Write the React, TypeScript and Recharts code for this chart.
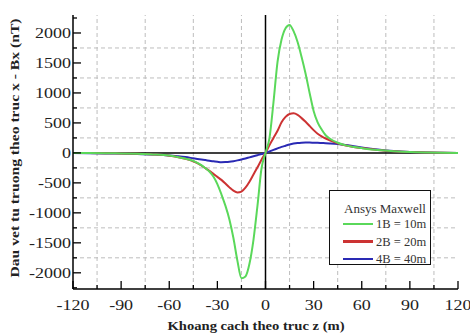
import React from 'react';
import { LineChart, Line, XAxis, YAxis, ReferenceLine, Label } from 'recharts';

const xs = [-120,-110,-100,-90,-80,-70,-60,-55,-50,-45,-40,-37.5,-35,-32.5,-30,-27.5,-25,-22.5,-20,-17.5,-15,-12.5,-10,-7.5,-5,-2.5,0,2.5,5,7.5,10,12.5,15,17.5,20,22.5,25,27.5,30,32.5,35,37.5,40,45,50,55,60,70,80,90,100,110,120];

const green1B = [-1,-2,-4,-8,-14,-25,-45,-68,-95,-133,-205,-255,-310,-394,-520,-690,-880,-1110,-1420,-1800,-2090,-2060,-1850,-1450,-880,-260,0,250,850,1520,1890,2080,2135,2030,1850,1600,1320,1000,700,510,390,295,240,170,125,98,80,48,27,13,6,2,0];
const red2B = [-1,-2,-4,-8,-15,-26,-46,-67,-97,-140,-210,-255,-300,-350,-400,-450,-510,-575,-630,-660,-645,-580,-480,-360,-240,-115,0,130,250,370,510,600,650,660,635,580,518,450,380,320,275,240,210,160,122,98,80,50,28,14,6,2,0];
const blue4B = [-3,-5,-8,-12,-18,-27,-42,-55,-70,-90,-110,-120,-130,-140,-148,-155,-153,-148,-138,-125,-110,-93,-75,-57,-38,-19,0,25,50,75,100,120,140,155,165,170,172,172,170,168,165,162,158,148,132,112,92,56,30,15,6,2,0];

const xTicks = [-120,-105,-90,-75,-60,-45,-30,-15,0,15,30,45,60,75,90,105,120];
const yTicks = [-2250,-2000,-1750,-1500,-1250,-1000,-750,-500,-250,0,250,500,750,1000,1250,1500,1750,2000,2250];
const xGrid = [-105,-75,-45,-15,15,45,75,105];
const yGrid = [-1750,-1250,-750,-250,250,750,1250,1750];

const seriesNames = ['1B = 10m', '2B = 20m', '4B = 40m'];
const seriesColors = ['#5ad85a', '#cc3333', '#2a2ab4'];

const data = xs.map((x, i) => ({ x, g: green1B[i], r: red2B[i], b: blue4B[i] }));

const FONT = '"Liberation Serif", "Times New Roman", serif';

const LeftTick = (p: any) => {
  const v = p.payload.value;
  const major = v % 500 === 0;
  return (
    <g>
      <line x1={p.x} x2={p.x + (major ? 8 : 4)} y1={p.y} y2={p.y} stroke="#000" strokeWidth={1.3} />
      {major && (
        <text transform={`translate(${p.x - 2},${p.y + 5}) scale(1.2,1)`} textAnchor="end" fontSize={15} fontFamily={FONT} fill="#222">{v}</text>
      )}
    </g>
  );
};
const RightTick = (p: any) => {
  const v = p.payload.value;
  const major = v % 500 === 0;
  return <line x1={p.x} x2={p.x - (major ? 8 : 4)} y1={p.y} y2={p.y} stroke="#000" strokeWidth={1.3} />;
};
const BottomTick = (p: any) => {
  const v = p.payload.value;
  const major = v % 30 === 0;
  return (
    <g>
      <line x1={p.x} x2={p.x} y1={p.y} y2={p.y - (major ? 8 : 4)} stroke="#000" strokeWidth={1.3} />
      {major && (
        <text transform={`translate(${p.x},${p.y + 21}) scale(1.2,1)`} textAnchor="middle" fontSize={15} fontFamily={FONT} fill="#222">{v}</text>
      )}
    </g>
  );
};
const TopTick = (p: any) => {
  const v = p.payload.value;
  const major = v % 30 === 0;
  return <line x1={p.x} x2={p.x} y1={p.y} y2={p.y + (major ? 8 : 4)} stroke="#000" strokeWidth={1.3} />;
};

export default function App() {
  return (
    <div style={{ position: 'absolute', left: 0, top: 0, width: 470, height: 333, background: '#fff' }}>
      <LineChart width={470} height={333} data={data} margin={{ top: 15, right: 12, left: 0, bottom: 0 }}>
        <XAxis dataKey="x" type="number" domain={[-120, 120]} ticks={xTicks} interval={0} height={44}
          tickSize={0} tickMargin={0} tickLine={false} axisLine={{ stroke: '#000', strokeWidth: 1.5 }} tick={<BottomTick />}>
          <Label content={() => (
            <text x={256} y={330} textAnchor="middle" fontSize={13} fontWeight="bold" fontFamily={FONT} fill="#222" textLength={177} lengthAdjust="spacingAndGlyphs">Khoang cach theo truc z (m)</text>
          )} />
        </XAxis>
        <XAxis xAxisId="t" orientation="top" type="number" domain={[-120, 120]} ticks={xTicks} interval={0} height={0}
          tickSize={0} tickMargin={0} tickLine={false} axisLine={{ stroke: '#000', strokeWidth: 1.5 }} tick={<TopTick />} />
        <YAxis type="number" domain={[-2270, 2300]} ticks={yTicks} interval={0} width={73} allowDataOverflow
          tickSize={0} tickMargin={0} tickLine={false} axisLine={{ stroke: '#000', strokeWidth: 1.5 }} tick={<LeftTick />}>
          <Label content={() => (
            <text transform="translate(19,148) rotate(-90)" textAnchor="middle" fontSize={13} fontWeight="bold" fontFamily={FONT} fill="#222" textLength={259} lengthAdjust="spacingAndGlyphs">Dau vet tu truong theo truc x - Bx (nT)</text>
          )} />
        </YAxis>
        <YAxis yAxisId="r" orientation="right" type="number" domain={[-2270, 2300]} ticks={yTicks} interval={0} width={0}
          tickSize={0} tickMargin={0} tickLine={false} axisLine={{ stroke: '#000', strokeWidth: 1.5 }} tick={<RightTick />} />
        {xGrid.map((v) => (
          <ReferenceLine key={'gx' + v} x={v} stroke="#bdbdbd" strokeWidth={1} strokeDasharray="4 3" />
        ))}
        {yGrid.map((v) => (
          <ReferenceLine key={'gy' + v} y={v} stroke="#bdbdbd" strokeWidth={1} strokeDasharray="4 3" />
        ))}
        <ReferenceLine x={0} stroke="#000" strokeWidth={1.5} />
        <ReferenceLine y={0} stroke="#000" strokeWidth={1.5} />
        <Line type="monotone" dataKey="b" stroke={seriesColors[2]} strokeWidth={2} dot={false} isAnimationActive={false} />
        <Line type="monotone" dataKey="r" stroke={seriesColors[1]} strokeWidth={2} dot={false} isAnimationActive={false} />
        <Line type="monotone" dataKey="g" stroke={seriesColors[0]} strokeWidth={2} dot={false} isAnimationActive={false} />
      </LineChart>
      <div style={{ position: 'absolute', left: 329, top: 190, width: 100, height: 73, border: '1.5px solid #111', background: '#fff', fontFamily: FONT, color: '#333', fontSize: 12.5 }}>
        <div style={{ position: 'absolute', left: 14, top: 10, lineHeight: '16px', whiteSpace: 'nowrap', fontSize: 13 }}>Ansys Maxwell</div>
        {seriesNames.map((n, i) => (
          <div key={n} style={{ position: 'absolute', left: 13, top: 25 + i * 17.5, height: 16, display: 'flex', alignItems: 'center', whiteSpace: 'nowrap' }}>
            <div style={{ width: 30, height: 2.5, background: seriesColors[i], marginRight: 3 }} />
            <span style={{ lineHeight: '16px' }}>{n}</span>
          </div>
        ))}
      </div>
    </div>
  );
}
